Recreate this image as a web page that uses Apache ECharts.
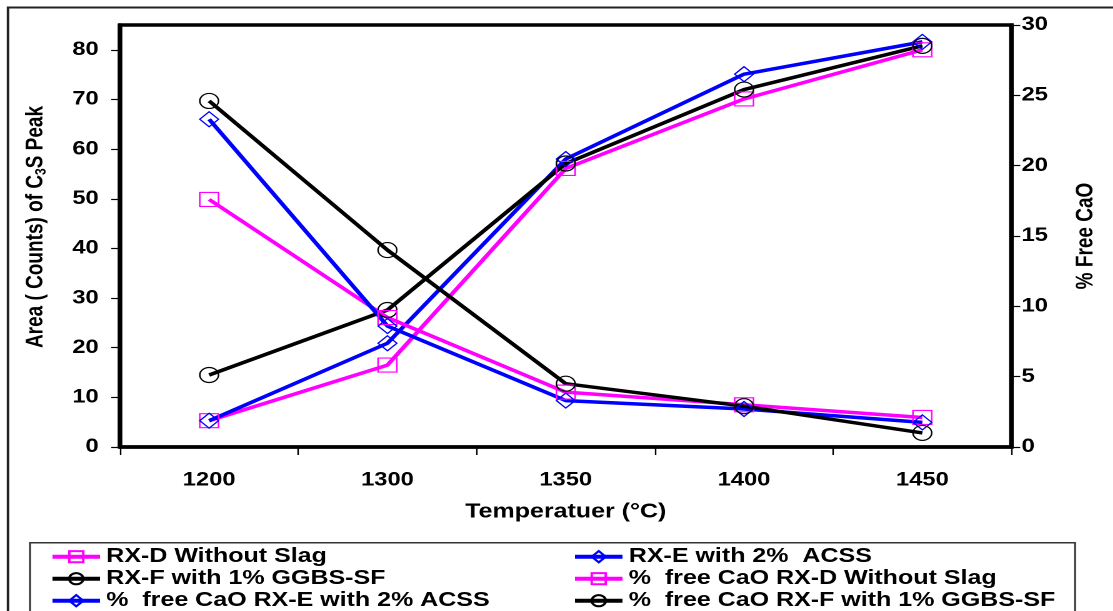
<!DOCTYPE html>
<html>
<head>
<meta charset="utf-8">
<script src="https://cdn.jsdelivr.net/npm/echarts@6/dist/echarts.min.js"></script>
<style>
  html, body { margin: 0; padding: 0; background: #fff; overflow: hidden; }
  /* chart is laid out narrower and stretched horizontally to the page width;
     it runs a little past the bottom of the page so the legend box stays open */
  #chart { width: 890.4px; height: 640px; transform: scaleX(1.25); transform-origin: 0 0; }
</style>
</head>
<body>
<div id="chart"></div>
<script>
// Temperatures (categories)
const temps = ['1200', '1300', '1350', '1400', '1450'];

// Area (counts) of the C3S peak — left axis
const areaRXD = [5.3, 16.5, 56.1, 70.1, 80.0];
const areaRXE = [5.3, 20.9, 58.0, 75.1, 81.6];
const areaRXF = [14.5, 27.6, 57.1, 72.0, 80.8];

// % free CaO — right axis
const caoRXD = [17.6, 9.2, 3.9, 3.0, 2.1];
const caoRXE = [23.3, 8.6, 3.3, 2.7, 1.75];
const caoRXF = [24.6, 14.0, 4.5, 2.9, 1.0];

// Tick values
const leftTicks = [0, 10, 20, 30, 40, 50, 60, 70, 80];
const rightTicks = [0, 5, 10, 15, 20, 25, 30];

const FONT = "'Liberation Sans', Arial, sans-serif";
const MAGENTA = '#ff00ff', BLUE = '#0000ff', BLACK = '#000000';

function lineSeries(name, data, color, symbol, size, yAxisIndex) {
  return {
    name: name,
    type: 'line',
    yAxisIndex: yAxisIndex,
    data: data,
    symbol: symbol,
    symbolSize: size,
    showSymbol: true,
    lineStyle: { color: color, width: 3.5 },
    itemStyle: { color: 'rgba(255,255,255,0)', borderColor: color, borderWidth: 1.2 },
    emphasis: { disabled: true },
    animation: false
  };
}

const names = [
  'RX-D Without Slag',
  'RX-E with 2%  ACSS',
  'RX-F with 1% GGBS-SF',
  '%  free CaO RX-D Without Slag',
  '%  free CaO RX-E with 2% ACSS',
  '%  free CaO RX-F with 1% GGBS-SF'
];

const chart = echarts.init(document.getElementById('chart'), null, { renderer: 'canvas', devicePixelRatio: 2 });

const legendText = { fontFamily: FONT, fontSize: 20, fontWeight: 'bold', color: '#000', lineHeight: 20 };

chart.setOption({
  backgroundColor: '#fff',
  animation: false,
  textStyle: { fontFamily: FONT },
  grid: {
    left: 96, right: 80.8, top: 25, bottom: 193,
    show: true, borderColor: '#000', borderWidth: 3.5, backgroundColor: 'transparent'
  },
  graphic: [
    { type: 'rect', z: -1, shape: { x: 6.4, y: 7.5, width: 1000, height: 700 },
      style: { fill: 'none', stroke: '#222', lineWidth: 2 } },
    { type: 'rect', z: -1, shape: { x: 24, y: 542.7, width: 836, height: 120 },
      style: { fill: 'none', stroke: '#333', lineWidth: 1.5 } }
  ],
  legend: [
    {
      data: [names[0], names[2], names[4]],
      orient: 'vertical', left: 40, top: 546.7, padding: 0,
      itemWidth: 38, itemHeight: 14, itemGap: 2,
      lineStyle: { width: 4 },
      textStyle: legendText, selectedMode: false
    },
    {
      data: [names[1], names[3], names[5]],
      orient: 'vertical', left: 458, top: 546.7, padding: 0,
      itemWidth: 38, itemHeight: 14, itemGap: 2,
      lineStyle: { width: 4 },
      textStyle: legendText, selectedMode: false
    }
  ],
  xAxis: {
    type: 'category',
    data: temps,
    boundaryGap: true,
    name: 'Temperatuer (°C)',
    nameLocation: 'middle',
    nameGap: 55,
    nameTextStyle: { fontFamily: FONT, fontSize: 20, fontWeight: 'bold', color: '#000' },
    axisLine: { lineStyle: { color: '#000', width: 3.5 } },
    axisTick: { show: true, length: 8, lineStyle: { color: '#000', width: 1.2 } },
    axisLabel: { fontFamily: FONT, fontSize: 19, fontWeight: 'bold', color: '#000', margin: 24 },
    splitLine: { show: false }
  },
  yAxis: [
    {
      type: 'value', position: 'left', min: 0, max: 85,
      name: 'Area ( Counts) of C{sub|3}S Peak',
      nameLocation: 'middle', nameRotate: 90, nameGap: 57,
      nameTextStyle: {
        fontFamily: FONT, fontSize: 19, fontWeight: 'bold', color: '#000',
        padding: [0, 0, 0, 18],
        rich: { sub: { fontFamily: FONT, fontSize: 12, fontWeight: 'bold', color: '#000', verticalAlign: 'bottom', padding: [8, 0, 0, 0] } }
      },
      axisLine: { show: true, lineStyle: { color: '#000', width: 3.5 } },
      axisTick: { show: true, length: 7, customValues: leftTicks, lineStyle: { color: '#000', width: 1.2 } },
      axisLabel: { customValues: leftTicks, fontFamily: FONT, fontSize: 19, fontWeight: 'bold', color: '#000', margin: 17 },
      splitLine: { show: false }
    },
    {
      type: 'value', position: 'right', min: 0, max: 30, interval: 5,
      name: '% Free CaO',
      nameLocation: 'middle', nameRotate: 90, nameGap: 50,
      nameTextStyle: { fontFamily: FONT, fontSize: 19, fontWeight: 'bold', color: '#000' },
      axisLine: { show: true, lineStyle: { color: '#000', width: 3.5 } },
      axisTick: { show: true, length: 7, customValues: rightTicks, lineStyle: { color: '#000', width: 1.2 } },
      axisLabel: { customValues: rightTicks, fontFamily: FONT, fontSize: 19, fontWeight: 'bold', color: '#000', margin: 8 },
      splitLine: { show: false }
    }
  ],
  series: [
    lineSeries(names[0], areaRXD, MAGENTA, 'rect', [15, 14], 0),
    lineSeries(names[1], areaRXE, BLUE, 'diamond', [15, 15], 0),
    lineSeries(names[2], areaRXF, BLACK, 'circle', 15, 0),
    lineSeries(names[3], caoRXD, MAGENTA, 'rect', [15, 14], 1),
    lineSeries(names[4], caoRXE, BLUE, 'diamond', [15, 15], 1),
    lineSeries(names[5], caoRXF, BLACK, 'circle', 15, 1)
  ]
});
</script>
</body>
</html>
